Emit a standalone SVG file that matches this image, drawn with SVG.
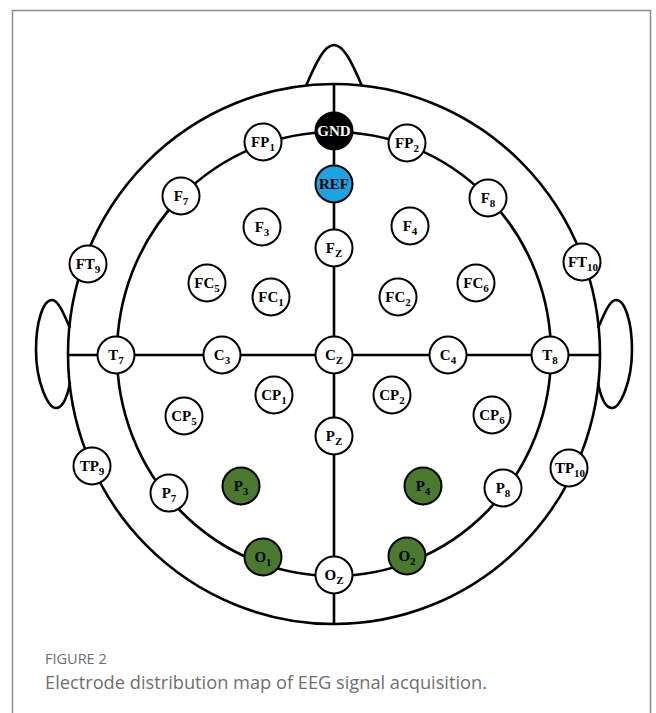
<svg xmlns="http://www.w3.org/2000/svg" width="656" height="713" viewBox="0 0 656 713">
<style>
.ln{fill:none;stroke:#000;stroke-width:2.6}
.nd{fill:#fff;stroke:#000;stroke-width:2}
.g{fill:#4b7a2e}
.k{fill:#000}
.b{fill:#1ea3e2}
.t{font-family:"Liberation Serif",serif;font-weight:bold;font-size:15px;fill:#000;text-anchor:middle}
.w{fill:#fff}
.s{font-size:11px}
.cap{font-family:"Open Sans","Noto Sans",sans-serif;fill:#6e6e6e}
</style>
<rect x="12.5" y="10.5" width="638" height="720" fill="none" stroke="#8c8c8c" stroke-width="1.5"/>
<g id="connectors">
<ellipse class="ln" cx="334" cy="354" rx="266" ry="270"/>
<ellipse class="ln" cx="334" cy="354" rx="217" ry="222"/>
<line class="ln" x1="334" y1="84" x2="334" y2="624"/>
<line class="ln" x1="68" y1="355" x2="600" y2="355"/>
<path class="ln" d="M306,86 C317,60 325,45 334,45 C343,45 351,60 362,86"/>
<path class="ln" d="M70,328 C63,312 58,300 52,300 C43,300 36,322 36,350 C36,382 48,408 56,408 C62,408 67,398 70,383"/>
<path class="ln" d="M598,328 C605,312 610,300 616,300 C625,300 632,322 632,350 C632,382 620,408 612,408 C606,408 601,398 598,383"/>
</g>
<g id="GND"><circle class="nd k" cx="334" cy="131" r="18.5"/><text class="t w" x="334" y="136" font-size="14">GND</text></g>
<g id="FP1"><circle class="nd" cx="263" cy="142" r="18.5"/><text class="t" x="263" y="147">FP<tspan class="s" dy="4">1</tspan></text></g>
<g id="FP2"><circle class="nd" cx="407" cy="143" r="18.5"/><text class="t" x="407" y="148">FP<tspan class="s" dy="4">2</tspan></text></g>
<g id="REF"><circle class="nd b" cx="334" cy="184" r="18.5"/><text class="t" x="334" y="189" font-size="14">REF</text></g>
<g id="F7"><circle class="nd" cx="181" cy="196" r="18.5"/><text class="t" x="181" y="201">F<tspan class="s" dy="4">7</tspan></text></g>
<g id="F8"><circle class="nd" cx="488" cy="198" r="18.5"/><text class="t" x="488" y="203">F<tspan class="s" dy="4">8</tspan></text></g>
<g id="F3"><circle class="nd" cx="262" cy="227" r="18.5"/><text class="t" x="262" y="232">F<tspan class="s" dy="4">3</tspan></text></g>
<g id="F4"><circle class="nd" cx="410" cy="226" r="18.5"/><text class="t" x="410" y="231">F<tspan class="s" dy="4">4</tspan></text></g>
<g id="Fz"><circle class="nd" cx="334" cy="248" r="18.5"/><text class="t" x="334" y="253">F<tspan class="s" dy="4">Z</tspan></text></g>
<g id="FT9"><circle class="nd" cx="88" cy="264" r="18.5"/><text class="t" x="88" y="269">FT<tspan class="s" dy="4">9</tspan></text></g>
<g id="FT10"><circle class="nd" cx="582" cy="262" r="18.5"/><text class="t" x="583" y="267">FT<tspan class="s" dy="4">10</tspan></text></g>
<g id="FC5"><circle class="nd" cx="207" cy="283" r="18.5"/><text class="t" x="207" y="288">FC<tspan class="s" dy="4">5</tspan></text></g>
<g id="FC6"><circle class="nd" cx="476" cy="283" r="18.5"/><text class="t" x="476" y="288">FC<tspan class="s" dy="4">6</tspan></text></g>
<g id="FC1"><circle class="nd" cx="271" cy="297" r="18.5"/><text class="t" x="271" y="302">FC<tspan class="s" dy="4">1</tspan></text></g>
<g id="FC2"><circle class="nd" cx="398" cy="297" r="18.5"/><text class="t" x="398" y="302">FC<tspan class="s" dy="4">2</tspan></text></g>
<g id="T7"><circle class="nd" cx="116" cy="355" r="18.5"/><text class="t" x="116" y="360">T<tspan class="s" dy="4">7</tspan></text></g>
<g id="C3"><circle class="nd" cx="222" cy="355" r="18.5"/><text class="t" x="222" y="360">C<tspan class="s" dy="4">3</tspan></text></g>
<g id="Cz"><circle class="nd" cx="334" cy="355" r="18.5"/><text class="t" x="334" y="360">C<tspan class="s" dy="4">Z</tspan></text></g>
<g id="C4"><circle class="nd" cx="448" cy="355" r="18.5"/><text class="t" x="448" y="360">C<tspan class="s" dy="4">4</tspan></text></g>
<g id="T8"><circle class="nd" cx="550" cy="355" r="18.5"/><text class="t" x="550" y="360">T<tspan class="s" dy="4">8</tspan></text></g>
<g id="CP1"><circle class="nd" cx="274" cy="395" r="18.5"/><text class="t" x="274" y="400">CP<tspan class="s" dy="4">1</tspan></text></g>
<g id="CP2"><circle class="nd" cx="392" cy="395" r="18.5"/><text class="t" x="392" y="400">CP<tspan class="s" dy="4">2</tspan></text></g>
<g id="CP5"><circle class="nd" cx="184" cy="416" r="18.5"/><text class="t" x="184" y="421">CP<tspan class="s" dy="4">5</tspan></text></g>
<g id="CP6"><circle class="nd" cx="492" cy="415" r="18.5"/><text class="t" x="492" y="420">CP<tspan class="s" dy="4">6</tspan></text></g>
<g id="Pz"><circle class="nd" cx="334" cy="436" r="18.5"/><text class="t" x="334" y="441">P<tspan class="s" dy="4">Z</tspan></text></g>
<g id="TP9"><circle class="nd" cx="92" cy="466" r="18.5"/><text class="t" x="92" y="471">TP<tspan class="s" dy="4">9</tspan></text></g>
<g id="TP10"><circle class="nd" cx="569" cy="468" r="18.5"/><text class="t" x="570" y="473">TP<tspan class="s" dy="4">10</tspan></text></g>
<g id="P7"><circle class="nd" cx="169" cy="493" r="18.5"/><text class="t" x="169" y="498">P<tspan class="s" dy="4">7</tspan></text></g>
<g id="P3"><circle class="nd g" cx="241" cy="486" r="18.5"/><text class="t" x="241" y="491">P<tspan class="s" dy="4">3</tspan></text></g>
<g id="P4"><circle class="nd g" cx="423" cy="486" r="18.5"/><text class="t" x="423" y="491">P<tspan class="s" dy="4">4</tspan></text></g>
<g id="P8"><circle class="nd" cx="503" cy="488" r="18.5"/><text class="t" x="503" y="493">P<tspan class="s" dy="4">8</tspan></text></g>
<g id="O1"><circle class="nd g" cx="263" cy="557" r="18.5"/><text class="t" x="263" y="562">O<tspan class="s" dy="4">1</tspan></text></g>
<g id="O2"><circle class="nd g" cx="407" cy="556" r="18.5"/><text class="t" x="407" y="561">O<tspan class="s" dy="4">2</tspan></text></g>
<g id="Oz"><circle class="nd" cx="334" cy="575" r="18.5"/><text class="t" x="334" y="580">O<tspan class="s" dy="4">Z</tspan></text></g>
<text class="cap" x="45" y="664" font-size="14.5">FIGURE 2</text>
<text class="cap" x="45" y="689" font-size="17.5" textLength="442" lengthAdjust="spacingAndGlyphs">Electrode distribution map of EEG signal acquisition.</text>
</svg>
